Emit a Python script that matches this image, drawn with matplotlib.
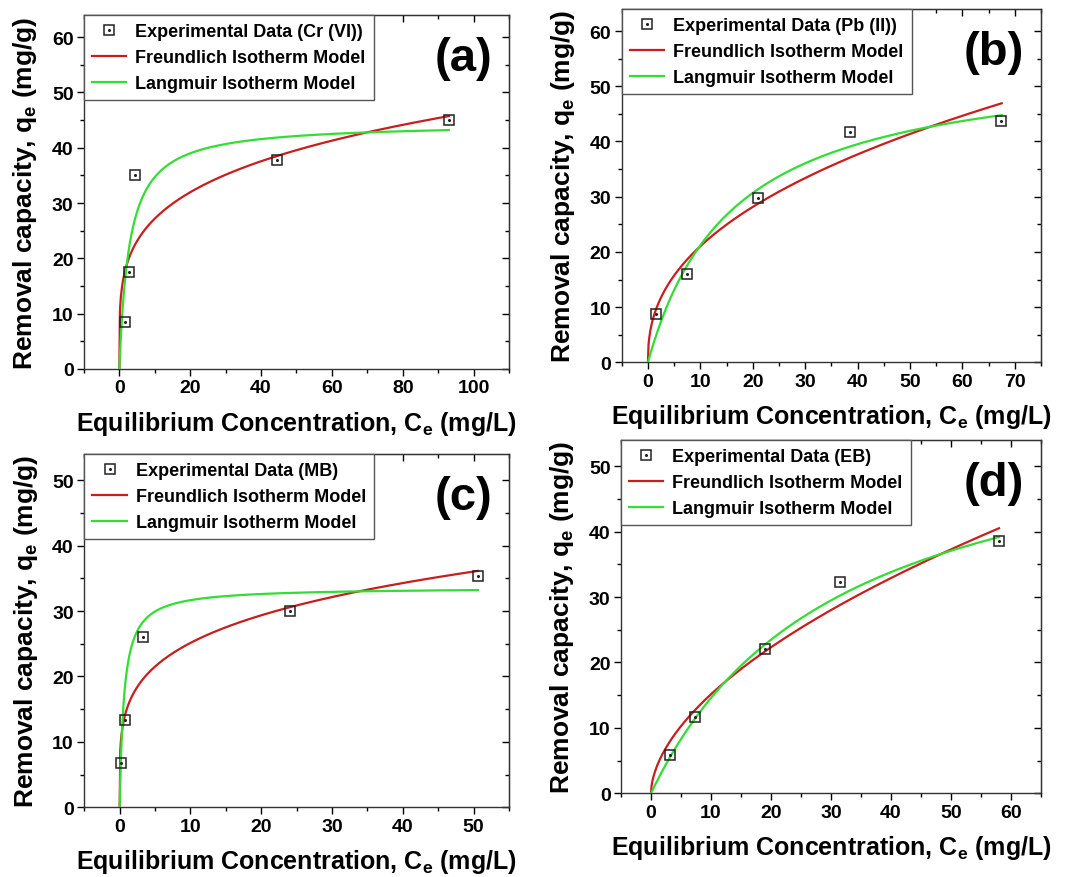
import matplotlib
matplotlib.use("Agg")
import matplotlib.pyplot as plt
import numpy as np

plt.rcParams["font.family"] = ["Liberation Sans", "DejaVu Sans"]
plt.rcParams["font.weight"] = "bold"
plt.rcParams["mathtext.fontset"] = "custom"
plt.rcParams["mathtext.rm"] = "Liberation Sans:bold"
plt.rcParams["mathtext.bf"] = "Liberation Sans:bold"

# experimental points (Ce mg/L, qe mg/g)
ce_cr = [1.7, 2.8, 4.4, 44.5, 93.1]
qe_cr = [8.5, 17.5, 35.0, 37.8, 45.0]
ce_pb = [1.5, 7.5, 21.0, 38.5, 67.3]
qe_pb = [8.8, 16.0, 29.8, 41.8, 43.8]
ce_mb = [0.2, 0.7, 3.3, 24.0, 50.6]
qe_mb = [6.7, 13.3, 26.0, 30.0, 35.3]
ce_eb = [3.2, 7.3, 19.0, 31.5, 58.0]
qe_eb = [5.9, 11.6, 22.0, 32.3, 38.6]

# fitted isotherm parameters estimated from the drawn curves
freundlich_kf = [15.9, 8.0, 15.0, 4.17]
freundlich_inv_n = [0.233, 0.42, 0.224, 0.56]
langmuir_qmax = [44.5, 55.5, 33.6, 60.4]
langmuir_kl = [0.354, 0.0618, 1.63, 0.0318]
curve_ce_max = [93.0, 67.5, 50.6, 58.0]

panel_tags = ["(a)", "(b)", "(c)", "(d)"]
species = ["Cr (VI)", "Pb (II)", "MB", "EB"]
xlims = [(-10, 110), (-5, 75), (-5, 55), (-5, 65)]
ylims = [(0, 64), (0, 64), (0, 54), (0, 54)]
xmajor = [20, 10, 10, 10]
ymajor = [10, 10, 10, 10]

# axes rectangles in figure fraction
positions = [
    [0.0773, 0.5786, 0.3914, 0.4032],
    [0.5725, 0.5862, 0.3861, 0.4024],
    [0.0776, 0.0794, 0.3911, 0.4024],
    [0.5718, 0.0953, 0.3868, 0.4024],
]

RED = "#c81e1e"
GREEN = "#33dd33"


def draw_panel(fig, idx):
    ax = fig.add_axes(positions[idx])
    xs = [ce_cr, ce_pb, ce_mb, ce_eb][idx]
    ys = [qe_cr, qe_pb, qe_mb, qe_eb][idx]

    c = np.linspace(0.0, curve_ce_max[idx], 600)
    q_f = freundlich_kf[idx] * np.power(c, freundlich_inv_n[idx])
    q_l = langmuir_qmax[idx] * langmuir_kl[idx] * c / (1.0 + langmuir_kl[idx] * c)

    ax.plot(xs, ys, linestyle="none", marker="s", markersize=6.8, markerfacecolor="none",
            markeredgecolor="#222222", markeredgewidth=1.1, zorder=4)
    ax.plot(xs, ys, linestyle="none", marker="o", markersize=1.2, color="#222222", zorder=4)
    ax.plot(c, q_f, color=RED, linewidth=1.6, zorder=2)
    ax.plot(c, q_l, color=GREEN, linewidth=1.6, zorder=3)

    # legend handles
    h_exp, = ax.plot([], [], linestyle="none", marker="s", markersize=6.8, markerfacecolor="none",
                     markeredgecolor="#222222", markeredgewidth=1.1)
    h_dot, = ax.plot([], [], linestyle="none", marker="o", markersize=1.2, color="#222222")
    h_f, = ax.plot([], [], color=RED, linewidth=1.6)
    h_l, = ax.plot([], [], color=GREEN, linewidth=1.6)
    leg = ax.legend([(h_exp, h_dot), h_f, h_l],
                    [f"Experimental Data ({species[idx]})", "Freundlich Isotherm Model",
                     "Langmuir Isotherm Model"],
                    loc="upper left", borderaxespad=0.0, fancybox=False, framealpha=1.0,
                    edgecolor="#555555", prop={"size": 13, "weight": "bold"},
                    handlelength=1.9, handletextpad=0.5, labelspacing=0.5, borderpad=0.45)
    leg.get_frame().set_linewidth(1.0)

    ax.text(0.96, 0.94, panel_tags[idx], transform=ax.transAxes, ha="right", va="top",
            fontsize=34, fontweight="bold")

    ax.set_xlim(*xlims[idx])
    ax.set_ylim(*ylims[idx])
    ax.set_xticks(np.arange(0, xlims[idx][1] + 0.1, xmajor[idx]))
    ax.set_xticks(np.arange(xlims[idx][0], xlims[idx][1] + 0.1, xmajor[idx] / 2), minor=True)
    ax.set_yticks(np.arange(0, ylims[idx][1] + 0.1, ymajor[idx]))
    ax.set_yticks(np.arange(0, ylims[idx][1] + 0.1, ymajor[idx] / 2), minor=True)
    ax.tick_params(which="both", direction="out", labelsize=14, width=1.0, pad=2.5)
    ax.tick_params(which="major", length=5)
    ax.tick_params(which="minor", length=3)
    for lab in ax.get_xticklabels() + ax.get_yticklabels():
        lab.set_fontweight("bold")
    for spine in ax.spines.values():
        spine.set_linewidth(1.0)
        spine.set_color("#333333")

    # Origin-style inward ticks on the top and right sides
    top = ax.secondary_xaxis("top")
    top.set_xticks(ax.get_xticks())
    top.set_xticks(ax.get_xticks(minor=True), minor=True)
    top.tick_params(which="both", direction="in", labeltop=False, width=1.0)
    top.tick_params(which="major", length=5)
    top.tick_params(which="minor", length=3)
    right = ax.secondary_yaxis("right")
    right.set_yticks(ax.get_yticks())
    right.set_yticks(ax.get_yticks(minor=True), minor=True)
    right.tick_params(which="both", direction="in", labelright=False, width=1.0)
    right.tick_params(which="major", length=5)
    right.tick_params(which="minor", length=3)

    ax.set_xlabel(r"Equilibrium Concentration, C$_\mathbf{e}$ (mg/L)", fontsize=18,
                  fontweight="bold", labelpad=9)
    ax.set_ylabel(r"Removal capacity, q$_\mathbf{e}$ (mg/g)", fontsize=19,
                  fontweight="bold", labelpad=9)
    return ax


fig = plt.figure(figsize=(10.86, 8.78), dpi=100)
for i in range(4):
    draw_panel(fig, i)
fig.savefig("out.png", dpi=100, facecolor="white")
